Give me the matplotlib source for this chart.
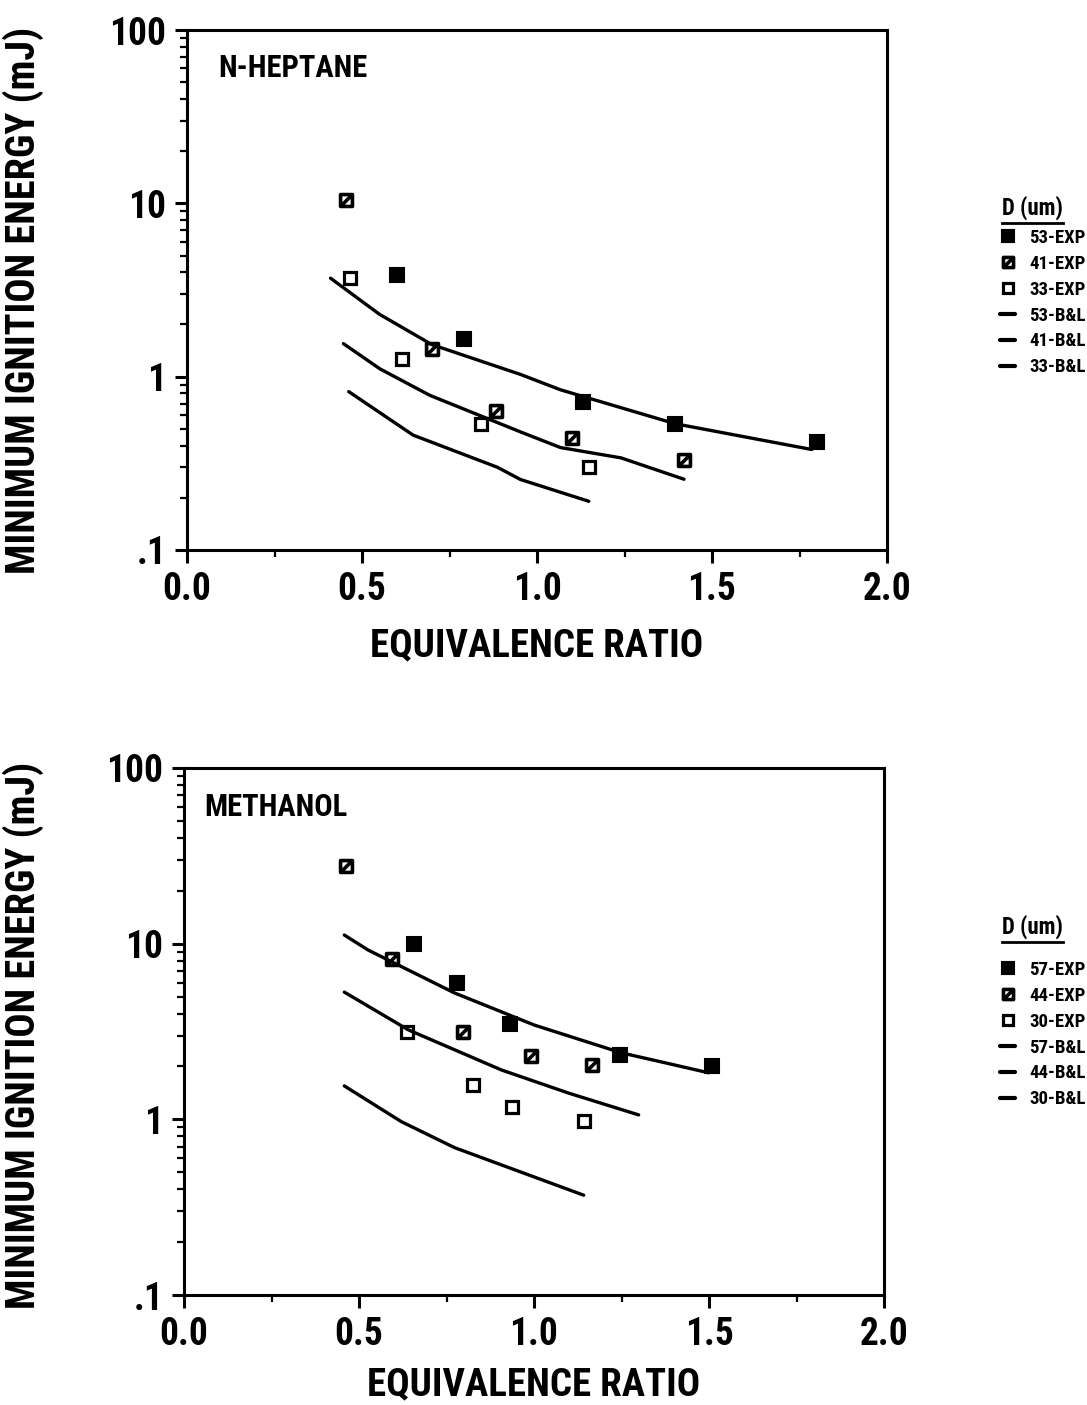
import matplotlib
matplotlib.use("Agg")
import matplotlib.pyplot as plt
from matplotlib.path import Path
from matplotlib.lines import Line2D
from matplotlib.ticker import FixedLocator, NullFormatter, LogLocator, MultipleLocator
from matplotlib import font_manager

names = {f.name for f in font_manager.fontManager.ttflist}
cands = [n for n in ['Roboto Condensed', 'Liberation Sans Narrow', 'DejaVu Sans Condensed', 'Open Sans Condensed'] if n in names]
FONT = cands[:1] + ['DejaVu Sans']
plt.rcParams['font.family'] = FONT
plt.rcParams['font.weight'] = 'bold'
plt.rcParams['font.stretch'] = 'condensed'

# ---------------- data: N-HEPTANE ----------------
hep_53_exp_x = [0.60, 0.79, 1.13, 1.395, 1.80]
hep_53_exp_y = [3.85, 1.66, 0.71, 0.53, 0.42]
hep_41_exp_x = [0.453, 0.70, 0.884, 1.10, 1.42]
hep_41_exp_y = [10.5, 1.44, 0.63, 0.44, 0.33]
hep_33_exp_x = [0.465, 0.615, 0.84, 1.148]
hep_33_exp_y = [3.7, 1.27, 0.53, 0.30]

hep_53_bl_x = [0.41, 0.55, 0.70, 0.953, 1.067, 1.395, 1.785]
hep_53_bl_y = [3.7, 2.29, 1.53, 1.03, 0.84, 0.535, 0.38]
hep_41_bl_x = [0.447, 0.551, 0.694, 0.953, 1.067, 1.24, 1.42]
hep_41_bl_y = [1.55, 1.11, 0.78, 0.48, 0.39, 0.34, 0.256]
hep_33_bl_x = [0.462, 0.646, 0.887, 0.953, 1.148]
hep_33_bl_y = [0.82, 0.46, 0.30, 0.255, 0.191]

# ---------------- data: METHANOL ----------------
met_57_exp_x = [0.658, 0.781, 0.93, 1.247, 1.508]
met_57_exp_y = [9.95, 5.97, 3.49, 2.33, 2.01]
met_44_exp_x = [0.464, 0.595, 0.798, 0.99, 1.167]
met_44_exp_y = [27.7, 8.2, 3.14, 2.30, 2.04]
met_30_exp_x = [0.638, 0.827, 0.936, 1.144]
met_30_exp_y = [3.14, 1.57, 1.18, 0.98]

met_57_bl_x = [0.458, 0.526, 0.773, 1.001, 1.25, 1.365, 1.499]
met_57_bl_y = [11.2, 9.2, 5.24, 3.44, 2.39, 2.12, 1.84]
met_44_bl_x = [0.458, 0.641, 0.907, 1.099, 1.299]
met_44_bl_y = [5.3, 3.23, 1.91, 1.41, 1.06]
met_30_bl_x = [0.458, 0.621, 0.773, 1.142]
met_30_bl_y = [1.55, 0.97, 0.69, 0.37]

x_ticks = [0.0, 0.5, 1.0, 1.5, 2.0]
x_tick_labels = ['0.0', '0.5', '1.0', '1.5', '2.0']
y_ticks = [0.1, 1, 10, 100]
y_tick_labels = ['.1', '1', '10', '100']

hep_labels = ['53-EXP', '41-EXP', '33-EXP', '53-B&L', '41-B&L', '33-B&L']
met_labels = ['57-EXP', '44-EXP', '30-EXP', '57-B&L', '44-B&L', '30-B&L']

# hatched square marker: outline + diagonal
hatch_marker = Path([(-1, -1), (1, -1), (1, 1), (-1, 1), (-1, -1), (-1, -1), (1, 1)],
                    [Path.MOVETO, Path.LINETO, Path.LINETO, Path.LINETO, Path.CLOSEPOLY,
                     Path.MOVETO, Path.LINETO])

W, H = 1087, 1405
fig = plt.figure(figsize=(W / 100, H / 100), dpi=100)
fig.patch.set_facecolor('white')

LW = 2.4
MS = 9.5
COND = bool(cands)
TICK_FS = 27 if COND else 22
XL_FS = 28 if COND else 22
YL_FS = 29 if COND else 20
LEG_FS = 13.5 if COND else 10.5
NAME_FS = 22 if COND else 16


def make_panel(rect, name, name_dx, exps, bls, labels, leg_y, title_y, xpad):
    ax = fig.add_axes(rect)
    ax.set_yscale('log')
    ax.set_xlim(0, 2.0)
    ax.set_ylim(0.1, 100)
    (fx, fy), (hx, hy), (ox, oy) = exps
    h_f, = ax.plot(fx, fy, ls='none', marker='s', ms=MS, mfc='black', mec='black', mew=1.5)
    h_h, = ax.plot(hx, hy, ls='none', marker=hatch_marker, ms=MS * 0.9, mfc='none', mec='black', mew=2.6)
    h_o, = ax.plot(ox, oy, ls='none', marker='s', ms=MS * 0.95, mfc='white', mec='black', mew=2.3)
    lines = []
    for bx, by in bls:
        l, = ax.plot(bx, by, color='black', lw=LW, solid_capstyle='round')
        lines.append(l)
    for s in ax.spines.values():
        s.set_linewidth(2.2)
    ax.xaxis.set_major_locator(FixedLocator(x_ticks))
    ax.set_xticklabels(x_tick_labels)
    ax.xaxis.set_minor_locator(MultipleLocator(0.25))
    ax.yaxis.set_major_locator(FixedLocator(y_ticks))
    ax.set_yticklabels(y_tick_labels)
    ax.yaxis.set_minor_locator(LogLocator(base=10, subs=range(2, 10)))
    ax.yaxis.set_minor_formatter(NullFormatter())
    ax.tick_params(which='major', direction='out', length=9, width=2.2, labelsize=TICK_FS, pad=6)
    ax.tick_params(which='minor', direction='out', length=5, width=1.6)
    for t in ax.get_xticklabels() + ax.get_yticklabels():
        t.set_fontweight('bold')
    ax.set_xlabel('EQUIVALENCE RATIO', fontsize=XL_FS, fontweight='bold', labelpad=xpad)
    ax.text(name_dx / 700, 0.955, name, transform=ax.transAxes, fontsize=NAME_FS, fontweight='bold',
            ha='left', va='top')
    handles = [h_f, h_h, h_o] + lines
    leg = ax.legend(handles, labels, loc='upper left',
                    bbox_to_anchor=(1000 / W, 1 - leg_y / H), bbox_transform=fig.transFigure,
                    frameon=False, handlelength=0.8, handletextpad=0.75, labelspacing=0.42,
                    borderpad=0, borderaxespad=0, markerscale=0.85,
                    prop={'family': FONT, 'weight': 'bold', 'size': LEG_FS, 'stretch': 'condensed'})
    for lh in leg.get_lines():
        lh.set_linewidth(3.0)
    t = fig.text(1002 / W, 1 - title_y / H, 'D (um)', fontsize=LEG_FS + 3, fontweight='bold',
                 ha='left', va='baseline')
    return ax, t


ax1, t1 = make_panel([187 / W, 1 - 550 / H, 700 / W, 520 / H], 'N-HEPTANE', 31,
                     [(hep_53_exp_x, hep_53_exp_y), (hep_41_exp_x, hep_41_exp_y), (hep_33_exp_x, hep_33_exp_y)],
                     [(hep_53_bl_x, hep_53_bl_y), (hep_41_bl_x, hep_41_bl_y), (hep_33_bl_x, hep_33_bl_y)],
                     hep_labels, 229, 215, 14)
ax2, t2 = make_panel([184 / W, 1 - 1295 / H, 700 / W, 527 / H], 'METHANOL', 20,
                     [(met_57_exp_x, met_57_exp_y), (met_44_exp_x, met_44_exp_y), (met_30_exp_x, met_30_exp_y)],
                     [(met_57_bl_x, met_57_bl_y), (met_44_bl_x, met_44_bl_y), (met_30_bl_x, met_30_bl_y)],
                     met_labels, 961, 934, 10)

for ax, yc in [(ax1, 300), (ax2, 1035)]:
    fig.text(23 / W, 1 - yc / H, 'MINIMUM IGNITION ENERGY (mJ)', rotation=90, fontsize=YL_FS,
             fontweight='bold', ha='center', va='center')

fig.canvas.draw()
r = fig.canvas.get_renderer()
for t in (t1, t2):
    bb = t.get_window_extent(r)
    y = bb.y0 - 3
    fig.add_artist(Line2D([bb.x0 / W, bb.x1 / W], [y / H, y / H], transform=fig.transFigure,
                          color='black', lw=2.0))

fig.savefig('out.png', dpi=100, facecolor='white')
